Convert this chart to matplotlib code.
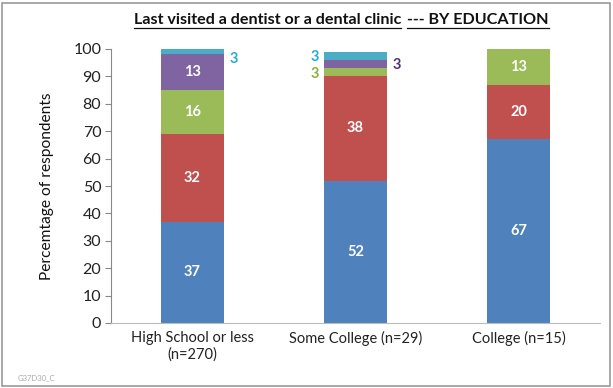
import matplotlib
matplotlib.use("Agg")
import matplotlib.pyplot as plt
from matplotlib.lines import Line2D
from matplotlib.patches import Rectangle
import numpy as np

categories = ["High School or less\n(n=270)", "Some College (n=29)", "College (n=15)"]
series_names = ["Within past year", "1-2 years", "3-5 years", "More than 5 years", "Never"]
s_blue = [37, 52, 67]
s_red = [32, 38, 20]
s_green = [16, 3, 13]
s_purple = [13, 3, 0]
s_cyan = [3, 3, 0]
yticks = [0, 10, 20, 30, 40, 50, 60, 70, 80, 90, 100]

colors = ["#4F81BD", "#C0504D", "#9BBB59", "#8064A2", "#4BACC6"]
label_colors = ["#2E5C99", "#A33B38", "#8BB040", "#4B3080", "#2AA8D8"]

plt.rcParams['font.family'] = ['Lato', 'DejaVu Sans']

fig = plt.figure(figsize=(6.13, 3.88), dpi=100)
W, H = 613, 388
ax = fig.add_axes([111 / W, 1 - 323 / H, (600 - 111) / W, (323 - 49) / H])

x = np.arange(len(categories))
width = 0.39
bottom = np.zeros(len(categories))
all_series = [s_blue, s_red, s_green, s_purple, s_cyan]
bars = []
for vals, col in zip(all_series, colors):
    v = np.array(vals, dtype=float)
    ax.bar(x, v, width, bottom=bottom, color=col, edgecolor='none')
    bars.append((v, bottom.copy()))
    bottom = bottom + v

# small-label offsets (value units) and sides for outside labels
outside = {(4, 0): ('right', -3.0), (4, 1): ('left', -0.5),
           (2, 1): ('left', -0.5), (3, 1): ('right', -0.5)}

for si, (v, bot) in enumerate(bars):
    for ci in range(len(categories)):
        val = v[ci]
        if val <= 0:
            continue
        yc = bot[ci] + val / 2
        if val >= 8:
            ax.text(x[ci], yc, f"{int(val)}", ha='center', va='center',
                    color='white', fontsize=10.5, fontweight='bold')
        else:
            side, dy = outside.get((si, ci), ('right', 0))
            if side == 'right':
                ax.text(x[ci] + width / 2 + 0.03, yc + dy, f"{int(val)}", ha='left', va='center',
                        color=label_colors[si], fontsize=10.5, fontweight='bold')
            else:
                ax.text(x[ci] - width / 2 - 0.03, yc + dy, f"{int(val)}", ha='right', va='center',
                        color=label_colors[si], fontsize=10.5, fontweight='bold')

ax.set_xlim(-0.5, 2.5)
ax.set_ylim(0, 100)
ax.set_yticks(yticks)
ax.set_yticklabels([str(t) for t in yticks], fontsize=11.5, color='#222222')
ax.set_xticks(x)
ax.set_xticklabels(categories, fontsize=10.5, color='#222222')
ax.tick_params(axis='x', length=0, pad=6)
ax.tick_params(axis='y', length=4, color='#888888', pad=3, direction='out')
for sp in ['top', 'right']:
    ax.spines[sp].set_visible(False)
ax.spines['left'].set_color('#888888')
ax.spines['bottom'].set_color('#BBBBBB')
ax.set_ylabel("Percemtage of respondents", fontsize=11.2, color='#111111', labelpad=14)

# title with underlines
t1 = fig.text(134 / W, 1 - 20 / H, "Last visited a dentist or a dental clinic",
              ha='left', va='center', fontsize=11.6, fontweight='bold', color='#111111')
fig.canvas.draw()
r = fig.canvas.get_renderer()
bb1 = t1.get_window_extent(r)
t2 = fig.text((bb1.x1 + 6) / W, 1 - 20 / H, "--- BY EDUCATION",
              ha='left', va='center', fontsize=11.6, fontweight='bold', color='#111111')
fig.canvas.draw()
bb2 = t2.get_window_extent(r)
uy = (bb1.y0 - 1) / H
fig.add_artist(Line2D([bb1.x0 / W, bb1.x1 / W], [uy, uy], color='#111111', lw=0.9))
fig.add_artist(Line2D([bb2.x0 / W, bb2.x1 / W], [uy, uy], color='#111111', lw=0.9))

# watermark
fig.text(18 / W, 1 - 378 / H, "G37D30_C", fontsize=5.5, color='#AAAAAA', ha='left', va='center')

# figure border
fig.add_artist(Rectangle((2 / W, 2 / H), (W - 5) / W, (H - 5) / H, transform=fig.transFigure,
                         fill=False, edgecolor='#999999', lw=1.2))

fig.savefig("out.png", dpi=100)
